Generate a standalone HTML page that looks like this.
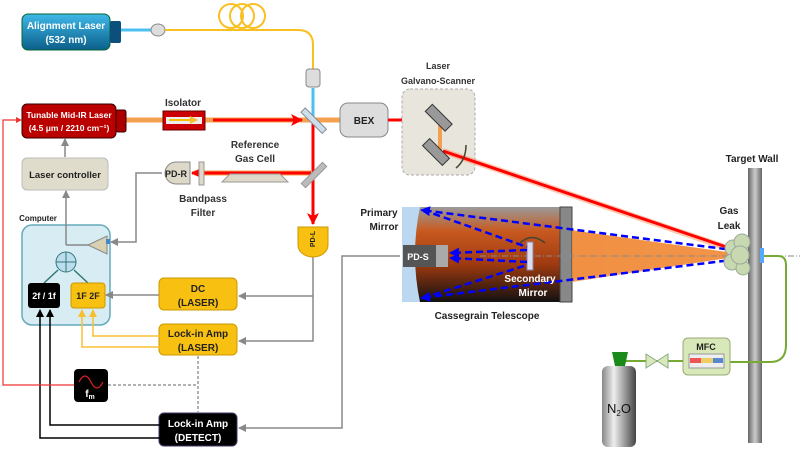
<!DOCTYPE html><html><head><meta charset="utf-8"><style>body{margin:0;background:#fff}svg{display:block;font-family:"Liberation Sans",sans-serif;font-weight:bold}</style></head><body>
<svg width="800" height="450" viewBox="0 0 800 450">
<defs>
<linearGradient id="bl" x1="0" y1="0" x2="0" y2="1"><stop offset="0" stop-color="#3fb8e8"/><stop offset="1" stop-color="#0b5f8a"/></linearGradient>
<linearGradient id="tb" x1="0" y1="0" x2="0" y2="1"><stop offset="0" stop-color="#9a9a9a"/><stop offset=".25" stop-color="#c85a20"/><stop offset=".6" stop-color="#a03a10"/><stop offset="1" stop-color="#111"/></linearGradient>
<linearGradient id="cone" x1="0" y1="0" x2="1" y2="0"><stop offset="0" stop-color="#f08a3a" stop-opacity=".9"/><stop offset="1" stop-color="#f5a050" stop-opacity=".7"/></linearGradient>
<linearGradient id="cyl" x1="0" y1="0" x2="1" y2="0"><stop offset="0" stop-color="#888"/><stop offset=".35" stop-color="#eee"/><stop offset="1" stop-color="#444"/></linearGradient>
<linearGradient id="wall" x1="0" y1="0" x2="1" y2="0"><stop offset="0" stop-color="#666"/><stop offset=".5" stop-color="#ccc"/><stop offset="1" stop-color="#666"/></linearGradient>
<marker id="ag" markerUnits="userSpaceOnUse" markerWidth="8" markerHeight="8" refX="7" refY="4" orient="auto"><path d="M0,0L8,4L0,8z" fill="#888"/></marker>
<marker id="ar" markerUnits="userSpaceOnUse" markerWidth="12" markerHeight="12" refX="11" refY="6" orient="auto"><path d="M0,0L12,6L0,12L3,6z" fill="#f00"/></marker>
<marker id="ab" markerUnits="userSpaceOnUse" markerWidth="10" markerHeight="10" refX="9" refY="5" orient="auto"><path d="M0,0L10,5L0,10z" fill="#00f"/></marker>
<marker id="ak" markerUnits="userSpaceOnUse" markerWidth="8" markerHeight="8" refX="7" refY="4" orient="auto"><path d="M0,0L8,4L0,8z" fill="#000"/></marker>
<marker id="ay" markerUnits="userSpaceOnUse" markerWidth="8" markerHeight="8" refX="7" refY="4" orient="auto"><path d="M0,0L8,4L0,8z" fill="#f8c030"/></marker>
</defs>
<!-- alignment laser -->
<rect x="22" y="14" width="88" height="36" rx="6" fill="url(#bl)" stroke="#063" stroke-width="1"/>
<rect x="110" y="21" width="11" height="22" rx="2" fill="#0b4f7a"/>
<text x="66" y="29" font-size="10" fill="#fff" text-anchor="middle">Alignment Laser</text>
<text x="66" y="43" font-size="10" fill="#fff" text-anchor="middle">(532 nm)</text>
<line x1="121" y1="30" x2="152" y2="30" stroke="#4cc0f0" stroke-width="3"/>
<ellipse cx="158" cy="30" rx="7" ry="6" fill="#ddd" stroke="#888"/>
<g fill="none" stroke="#f8c020" stroke-width="2"><circle cx="231" cy="16" r="12"/><circle cx="242" cy="16" r="12"/><circle cx="253" cy="16" r="12"/>
<path d="M165,30 L298,30 Q313,30 313,45 L313,70"/></g>
<rect x="306" y="69" width="14" height="18" rx="3" fill="#ddd" stroke="#888"/>
<line x1="313" y1="88" x2="313" y2="118" stroke="#4cc0f0" stroke-width="3"/>
<!-- mid IR -->
<line x1="126" y1="120" x2="340" y2="120" stroke="#f5a050" stroke-width="5"/>
<rect x="22" y="104" width="94" height="34" rx="5" fill="#b00" stroke="#300"/>
<rect x="116" y="110" width="10" height="22" rx="2" fill="#a00" stroke="#300"/>
<text x="69" y="118" font-size="8.5" fill="#fff" text-anchor="middle">Tunable Mid-IR Laser</text>
<text x="69" y="131" font-size="8.5" fill="#fff" text-anchor="middle">(4.5 μm / 2210 cm⁻¹)</text>
<text x="183" y="106" font-size="10" fill="#333" text-anchor="middle">Isolator</text>
<rect x="163" y="111" width="42" height="19" fill="#c00" stroke="#600"/>
<rect x="166" y="117" width="36" height="7" fill="#eee"/>
<line x1="169" y1="120" x2="197" y2="120" stroke="#f8c000" stroke-width="2" marker-end="url(#ay)"/>
<line x1="213" y1="120" x2="302" y2="120" stroke="#f00" stroke-width="3" marker-end="url(#ar)"/>
<line x1="313" y1="122" x2="313" y2="224" stroke="#f00" stroke-width="3" marker-end="url(#ar)"/>
<rect x="299" y="117" width="30" height="6" fill="#cde" stroke="#888" transform="rotate(45 313 120)"/>
<line x1="311" y1="173" x2="194" y2="173" stroke="#f5a050" stroke-width="5"/>
<line x1="311" y1="173" x2="192" y2="173" stroke="#f00" stroke-width="3" marker-end="url(#ar)"/>
<rect x="299" y="172" width="30" height="6" fill="#bbb" stroke="#999" transform="rotate(-45 314 175)"/>
<path d="M230,174 L280,174 L288,182 L222,182 z" fill="#ddd8c8" stroke="#999"/>
<text x="255" y="148" font-size="10" fill="#333" text-anchor="middle">Reference</text>
<text x="255" y="162" font-size="10" fill="#333" text-anchor="middle">Gas Cell</text>
<rect x="199" y="162" width="5" height="23" fill="#ddd8c8" stroke="#999"/>
<path d="M176,162 L190,162 L190,184 L176,184 A11,11 0 0 1 176,162z" fill="#ddd8c8" stroke="#888"/>
<text x="176" y="177" font-size="9" fill="#222" text-anchor="middle">PD-R</text>
<text x="203" y="202" font-size="10" fill="#333" text-anchor="middle">Bandpass</text>
<text x="203" y="216" font-size="10" fill="#333" text-anchor="middle">Filter</text>
<!-- BEX -->
<rect x="340" y="103" width="48" height="34" rx="8" fill="#ddd" stroke="#888"/>
<text x="364" y="124" font-size="10" fill="#222" text-anchor="middle">BEX</text>
<line x1="388" y1="120" x2="432" y2="120" stroke="#f00" stroke-width="3" marker-end="url(#ar)"/>
<text x="438" y="69" font-size="9" fill="#333" text-anchor="middle">Laser</text>
<text x="438" y="84" font-size="9" fill="#333" text-anchor="middle">Galvano-Scanner</text>
<rect x="402" y="89" width="73" height="86" rx="8" fill="#e8e6dc" stroke="#aaa" stroke-dasharray="3,2"/>
<line x1="440" y1="118" x2="440" y2="150" stroke="#f5a050" stroke-width="4"/>
<line x1="443" y1="151" x2="742" y2="253" stroke="#ff9060" stroke-width="6" opacity=".5"/>
<line x1="443" y1="151" x2="744" y2="253" stroke="#f00" stroke-width="3" marker-end="url(#ar)"/>
<rect x="425" y="112" width="28" height="10" fill="#999" stroke="#333" transform="rotate(45 438 117)"/>
<rect x="422" y="147" width="28" height="10" fill="#999" stroke="#333" transform="rotate(45 436 152)"/>
<path d="M466,145 Q466,160 456,168" fill="none" stroke="#443" stroke-width="1.5"/>
<!-- telescope -->
<path d="M420,210 L748,255 L420,300z" fill="url(#cone)"/>
<rect x="402" y="207" width="170" height="95" fill="url(#tb)"/>
<rect x="560" y="207" width="12" height="95" fill="#888" stroke="#444"/>
<path d="M402,207 L420,207 Q410,255 420,302 L402,302z" fill="#bcd8f0"/>
<path d="M572,230 L748,255 L572,282z" fill="#f08a3a" opacity=".8"/>
<line x1="480" y1="256" x2="800" y2="256" stroke="#888" stroke-dasharray="6,2,1,2"/>
<rect x="403" y="245" width="45" height="22" fill="#555"/><rect x="436" y="245" width="12" height="22" fill="#aaa"/>
<text x="418" y="260" font-size="9" fill="#fff" text-anchor="middle">PD-S</text>
<rect x="527" y="242" width="6" height="28" fill="#dde" stroke="#88a"/>
<g stroke="#00f" stroke-width="2.5" stroke-dasharray="7,4" fill="none">
<line x1="748" y1="252" x2="421" y2="210" marker-end="url(#ab)"/>
<line x1="748" y1="258" x2="421" y2="298" marker-end="url(#ab)"/>
<line x1="423" y1="210" x2="527" y2="247"/><line x1="423" y1="298" x2="527" y2="265"/>
<line x1="527" y1="250" x2="450" y2="253" marker-end="url(#ab)"/><line x1="527" y1="262" x2="450" y2="258" marker-end="url(#ab)"/>
</g>
<path d="M520,243 Q532,232 545,243" fill="none" stroke="#443" stroke-width="1.5"/>
<text x="530" y="282" font-size="10" fill="#fff" text-anchor="middle">Secondary</text>
<text x="533" y="296" font-size="10" fill="#fff" text-anchor="middle">Mirror</text>
<text x="487" y="319" font-size="10" fill="#222" text-anchor="middle">Cassegrain Telescope</text>
<text x="379" y="216" font-size="10" fill="#222" text-anchor="middle">Primary</text>
<text x="384" y="230" font-size="10" fill="#222" text-anchor="middle">Mirror</text>
<!-- wall -->
<text x="752" y="162" font-size="10" fill="#222" text-anchor="middle">Target Wall</text>
<rect x="748" y="168" width="14" height="275" fill="url(#wall)"/>
<text x="729" y="214" font-size="10" fill="#222" text-anchor="middle">Gas</text>
<text x="729" y="229" font-size="10" fill="#222" text-anchor="middle">Leak</text>
<g fill="#c8d8b0" stroke="#9a9"><circle cx="733" cy="248" r="8"/><circle cx="742" cy="242" r="8"/><circle cx="732" cy="262" r="8"/><circle cx="743" cy="268" r="7"/><circle cx="740" cy="255" r="9"/></g>
<rect x="760" y="248" width="4" height="15" fill="#5af"/>
<path d="M764,256 L778,256 Q786,256 786,265 L786,345 Q786,362 770,362 L730,362" fill="none" stroke="#7a3" stroke-width="2"/>
<rect x="683" y="338" width="47" height="37" rx="5" fill="#d8e8b8" stroke="#9a7"/>
<text x="706" y="350" font-size="9" fill="#222" text-anchor="middle">MFC</text>
<rect x="689" y="354" width="35" height="14" fill="#eee" stroke="#999"/>
<rect x="690" y="358" width="33" height="5" fill="#e55"/><rect x="701" y="358" width="12" height="5" fill="#ec6"/><rect x="713" y="358" width="10" height="5" fill="#58c"/>
<line x1="625" y1="361" x2="683" y2="361" stroke="#7a3" stroke-width="2"/>
<path d="M646,354 L668,368 L668,354 L646,368z" fill="#d8e8b8" stroke="#8a8"/>
<path d="M612,352 L628,352 L625,366 L615,366z" fill="#1a8a1a"/>
<rect x="602" y="366" width="34" height="81" rx="6" fill="url(#cyl)"/>
<text x="619" y="413" font-size="13" fill="#111" text-anchor="middle" font-weight="normal">N<tspan font-size="8" dy="3">2</tspan><tspan dy="-3">O</tspan></text>
<!-- control side -->
<rect x="22" y="158" width="86" height="32" rx="5" fill="#e0dccb" stroke="#bbb"/>
<text x="65" y="178" font-size="9.5" fill="#222" text-anchor="middle">Laser controller</text>
<line x1="65" y1="157" x2="65" y2="139" stroke="#888" stroke-width="1.5" marker-end="url(#ag)"/>
<text x="38" y="221" font-size="8" fill="#222" text-anchor="middle">Computer</text>
<rect x="22" y="225" width="88" height="100" rx="10" fill="#d8ecf4" stroke="#6ab" stroke-width="1.5"/>
<polyline points="66,245 66,191" fill="none" stroke="#888" stroke-width="1.5" marker-end="url(#ag)"/>
<line x1="66" y1="245" x2="90" y2="245" stroke="#888" stroke-width="1.5"/>
<path d="M88,245 L107,236 L107,254z" fill="#d8d0b0" stroke="#888"/>
<rect x="106" y="239" width="4" height="5" fill="#48c"/>
<polyline points="162,173 136,173 136,242 111,242" fill="none" stroke="#888" stroke-width="1.5" marker-end="url(#ag)"/>
<circle cx="66" cy="262" r="10" fill="#bde" stroke="#377"/><path d="M56,262H76M66,252V272" stroke="#377"/>
<line x1="44" y1="283" x2="58" y2="270" stroke="#377" stroke-width="1.5"/><line x1="88" y1="283" x2="74" y2="270" stroke="#377" stroke-width="1.5"/>
<rect x="28" y="283" width="32" height="25" rx="3" fill="#000"/>
<text x="44" y="299" font-size="9" fill="#fff" text-anchor="middle">2f / 1f</text>
<rect x="71" y="283" width="34" height="25" rx="3" fill="#f8c010" stroke="#c90"/>
<text x="88" y="299" font-size="9" fill="#222" text-anchor="middle">1F  2F</text>
<rect x="159" y="278" width="78" height="32" rx="5" fill="#f8c010" stroke="#c90"/>
<text x="198" y="292" font-size="10" fill="#222" text-anchor="middle">DC</text>
<text x="198" y="306" font-size="10" fill="#222" text-anchor="middle">(LASER)</text>
<rect x="159" y="324" width="78" height="31" rx="5" fill="#f8c010" stroke="#c90"/>
<text x="198" y="337" font-size="10" fill="#222" text-anchor="middle">Lock-in Amp</text>
<text x="198" y="351" font-size="10" fill="#222" text-anchor="middle">(LASER)</text>
<rect x="159" y="413" width="78" height="33" rx="5" fill="#000" stroke="#436"/>
<text x="198" y="427" font-size="10" fill="#fff" text-anchor="middle">Lock-in Amp</text>
<text x="198" y="441" font-size="10" fill="#fff" text-anchor="middle">(DETECT)</text>
<rect x="74" y="369" width="34" height="33" rx="4" fill="#000"/>
<path d="M79,382 Q85,370 91,382 T103,382" fill="none" stroke="#d22" stroke-width="1.2"/>
<text x="90" y="397" font-size="10" fill="#fff" text-anchor="middle">f<tspan font-size="7" dy="2">m</tspan></text>
<g fill="none" stroke="#888" stroke-width="1.5">
<polyline points="313,255 313,341 239,341" marker-end="url(#ag)"/>
<polyline points="313,296 239,296" marker-end="url(#ag)"/>
<polyline points="159,295 106,295" marker-end="url(#ag)"/>
<polyline points="400,256 342,256 342,428 239,428" marker-end="url(#ag)"/>
<path d="M198,356 V413 M108,385 H198" stroke-dasharray="3,2" stroke="#999"/>
</g>
<path d="M298,227 L328,227 L328,245 A15,12 0 0 1 298,245z" fill="#f8c010" stroke="#c90"/>
<text x="313" y="241" font-size="7" fill="#222" text-anchor="middle" transform="rotate(-90 313 239)">PD-L</text>
<g fill="none" stroke="#f8c030" stroke-width="1.5">
<polyline points="160,336 93,336 93,310" marker-end="url(#ay)"/>
<polyline points="160,347 82,347 82,310" marker-end="url(#ay)"/></g>
<g fill="none" stroke="#000" stroke-width="1.5">
<polyline points="160,425 50,425 50,310" marker-end="url(#ak)"/>
<polyline points="160,438 40,438 40,310" marker-end="url(#ak)"/></g>
<polyline points="74,385 3,385 3,120 20,120" fill="none" stroke="#e33" stroke-width="1.2"/>
<path d="M16,117 L22,120 L16,123z" fill="#e33"/>
</svg></body></html>
